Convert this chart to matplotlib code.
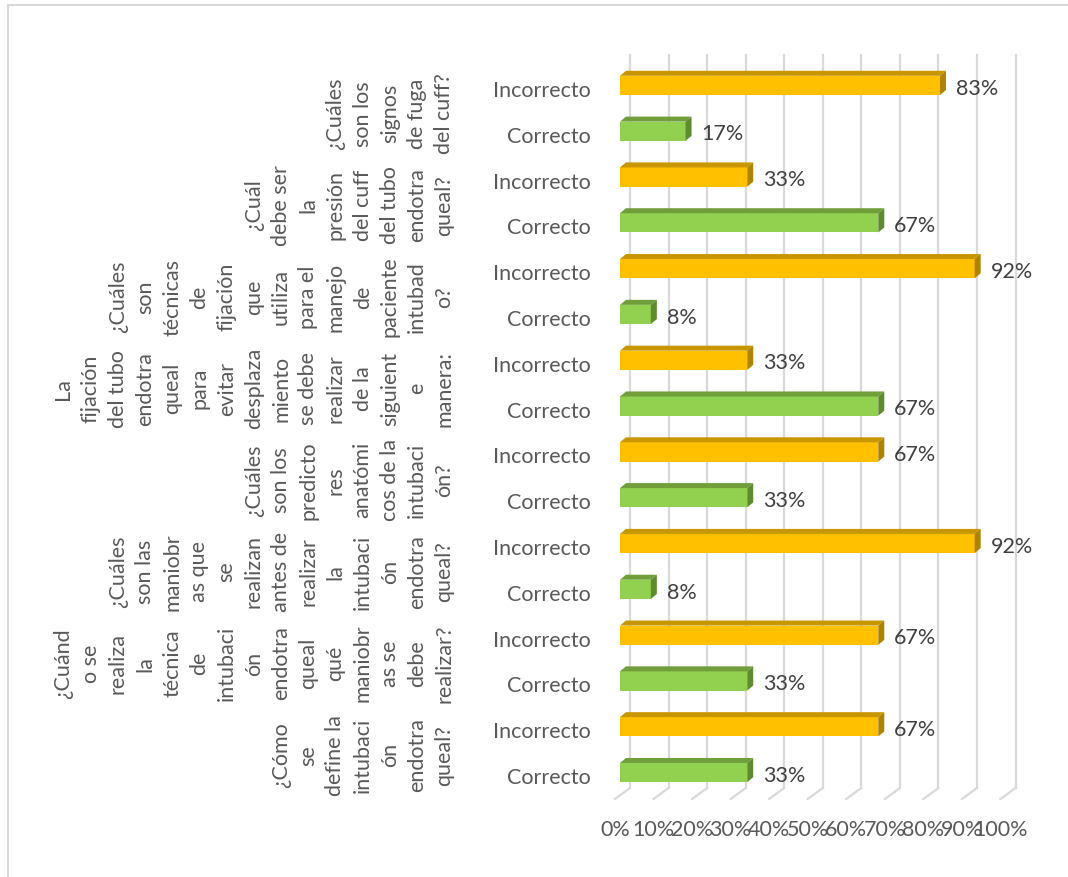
import matplotlib
matplotlib.use("Agg")
import matplotlib.pyplot as plt
from matplotlib.patches import Polygon, Rectangle

plt.rcParams['font.family'] = ['Lato', 'DejaVu Sans']

# groups from bottom to top, label lines as Excel wrapped them
group_labels = [
    "¿Cómo\nse\ndefine la\nintubaci\nón\nendotra\nqueal?",
    "¿Cuánd\no se\nrealiza\nla\ntécnica\nde\nintubaci\nón\nendotra\nqueal\nqué\nmaniobr\nas se\ndebe\nrealizar?",
    "¿Cuáles\nson las\nmaniobr\nas que\nse\nrealizan\nantes de\nrealizar\nla\nintubaci\nón\nendotra\nqueal?",
    "¿Cuáles\nson los\npredicto\nres\nanatómi\ncos de la\nintubaci\nón?",
    "La\nfijación\ndel tubo\nendotra\nqueal\npara\nevitar\ndesplaza\nmiento\nse debe\nrealizar\nde la\nsiguient\ne\nmanera:",
    "¿Cuáles\nson\ntécnicas\nde\nfijación\nque\nutiliza\npara el\nmanejo\nde\npaciente\nintubad\no?",
    "¿Cuál\ndebe ser\nla\npresión\ndel cuff\ndel tubo\nendotra\nqueal?",
    "¿Cuáles\nson los\nsignos\nde fuga\ndel cuff?",
]
answers = ["Correcto", "Incorrecto"]
correcto = [0.33, 0.33, 0.08, 0.33, 0.67, 0.08, 0.67, 0.17]
incorrecto = [0.67, 0.67, 0.92, 0.67, 0.33, 0.92, 0.33, 0.83]

colors = {"Correcto": ("#92d050", "#6f9e3a", "#5f8a30"),
          "Incorrecto": ("#ffc000", "#c79600", "#ad8300")}

W, H = 1068, 877
fig = plt.figure(figsize=(W / 100, H / 100), dpi=100)

# light chart border (only top and left visible in the crop)
fig.patches.append(Rectangle((8 / W, -0.1), 1.2, (H - 5) / H + 0.1, transform=fig.transFigure,
                             fill=False, edgecolor="#d9d9d9", linewidth=1.5))

ax = fig.add_axes([620 / W, (H - 801) / H, 385.5 / W, 733 / H])
ax.set_xlim(0, 1)
ax.set_ylim(-0.5, 15.5)
ax.axis("off")

# rows: for each group Correcto then Incorrecto
rows = []
for i in range(len(group_labels)):
    rows.append(("Correcto", correcto[i]))
    rows.append(("Incorrecto", incorrecto[i]))

def px(x, y):
    return ax.transData.transform((x, y))

ticks = [k / 10 for k in range(11)]
y_bottom = px(0, -0.5)[1] + 13
y_top = H - 55

# back wall gridlines and floor lines (behind everything)
for t in ticks:
    xb = px(t, 0)[0] + 10
    fig.lines.append(plt.Line2D([xb / W, xb / W], [y_bottom / H, y_top / H],
                                transform=fig.transFigure, color="#d9d9d9", lw=1.6, zorder=-1))
    fig.lines.append(plt.Line2D([xb / W, (xb - 15) / W], [y_bottom / H, (y_bottom - 11) / H],
                                transform=fig.transFigure, color="#d9d9d9", lw=1.6, zorder=-1))
    fig.text((xb - 15) / W, (y_bottom - 42) / H, f"{int(round(t * 100))}%", ha="center", va="center",
             fontsize=15.5, color="#595959")

bar_h = 0.42
dx, dy = 6, 5
off = 0.12
for j, (name, v) in enumerate(rows):
    front, top, side = colors[name]
    y0 = j + off - bar_h / 2
    y1 = j + off + bar_h / 2
    ax.barh(j + off, v, height=bar_h, left=0, color=front, zorder=3)
    (x0p, y0p), (x1p, y1p) = px(0, y0), px(v, y1)
    top_face = [(x0p, y1p), (x1p, y1p), (x1p + dx, y1p + dy), (x0p + dx, y1p + dy)]
    side_face = [(x1p, y0p), (x1p + dx, y0p + dy), (x1p + dx, y1p + dy), (x1p, y1p)]
    fig.patches.append(Polygon(top_face, closed=True, transform=None, facecolor=top,
                               edgecolor="none", zorder=4))
    fig.patches.append(Polygon(side_face, closed=True, transform=None, facecolor=side,
                               edgecolor="none", zorder=4))
    ax.text(v + 16 / 385.5, j + 0.05, f"{int(round(v * 100))}%",
            ha="left", va="center", fontsize=15.5, color="#404040", clip_on=False, zorder=5)
    ax.text(-0.075, j, name, ha="right", va="center", fontsize=15.5, color="#595959",
            clip_on=False)

for i, lab in enumerate(group_labels):
    yc = 2 * i + 0.5
    ax.text(-0.43, yc, lab, rotation=90, ha="right", va="center", multialignment="center",
            fontsize=15.5, color="#595959", linespacing=1.45, clip_on=False)

fig.savefig("out.png", dpi=100)
